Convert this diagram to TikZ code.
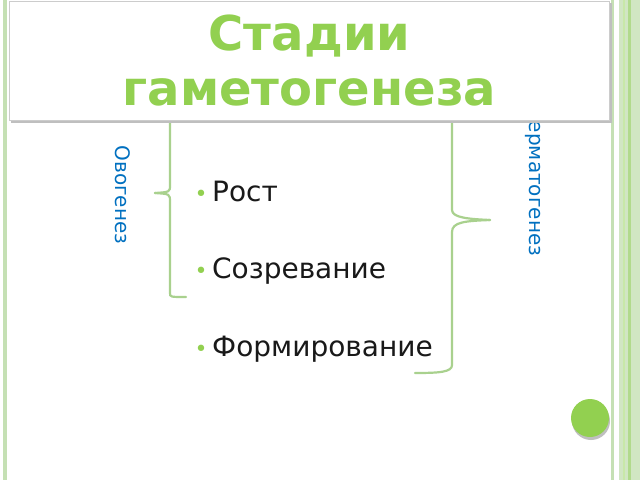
\documentclass[tikz,border=0pt]{standalone}
\usepackage{fontspec}
\setmainfont{DejaVu Sans}
\begin{document}
\begin{tikzpicture}[x=1pt,y=-1pt,
  brace/.style={line width=2.2pt, draw=brc},
  side/.style={text=blu, font=\fontsize{20}{22}\selectfont, rotate=-90},
  item/.style={anchor=west, font=\fontsize{28}{32}\selectfont, text=black!90}]
\definecolor{grn}{HTML}{92D050}
\definecolor{brc}{HTML}{A9D18E}
\definecolor{blu}{HTML}{0070C0}
\definecolor{frm}{HTML}{C5E0B4}
\useasboundingbox (0,0) rectangle (640,480);
\fill[white] (0,0) rectangle (640,480);
% frame
\fill[frm] (3,0) rectangle (7,480);
\fill[frm] (611,0) rectangle (614,480);
\fill[frm!80] (619,0) rectangle (640,480);
\fill[grn!50] (623,0) rectangle (625,480);
\fill[frm!60!grn] (628,0) rectangle (631,480);
% side labels
\node[side] (ovo) at (123,195) {Овогенез};
\node[side] (spe) at (535,175) {Сперматогенез};
% braces
\coordinate (lt) at (170,90);
\coordinate (ltip) at (155,193);
\coordinate (lb) at (186,297);
\draw[brace, line cap=round] (lt) -- (170,185) .. controls (170,192) .. (ltip);
\draw[brace, line cap=round] (ltip) .. controls (170,194) .. (170,202) -- (170,293) .. controls (170,297) .. (lb);
\coordinate (rt) at (452,90);
\coordinate (rtip) at (490,220);
\coordinate (rb) at (415,373);
\draw[brace, line cap=round] (rt) -- (452,210) .. controls (452,218) and (470,219) .. (rtip);
\draw[brace, line cap=round] (rtip) .. controls (465,221) and (452,222) .. (452,232) -- (452,365) .. controls (452,372) and (440,373) .. (rb);
% items
\node[item] (i1) at (191,191) {\textcolor{grn}{\fontsize{22}{22}\selectfont\textbullet}\,Рост};
\node[item] (i2) at (191,271) {\textcolor{grn}{\fontsize{22}{22}\selectfont\textbullet}\,Созревание};
\node[item] (i3) at (191,349) {\textcolor{grn}{\fontsize{22}{22}\selectfont\textbullet}\,Формирование};
% title
\fill[black!25] (11,3) rectangle (612,123);
\node[draw=black!20, fill=white, minimum width=600pt, minimum height=119pt, inner sep=0pt, align=center,
  text=grn, font=\bfseries\fontsize{48}{55}\selectfont] (title) at (309.5,60.5) {Стадии\\гаметогенеза};
% circle
\fill[black!25] (591,421) circle (19);
\node[circle, fill=grn, minimum size=38pt, inner sep=0pt] (dot) at (590,418) {};
\end{tikzpicture}
\end{document}
